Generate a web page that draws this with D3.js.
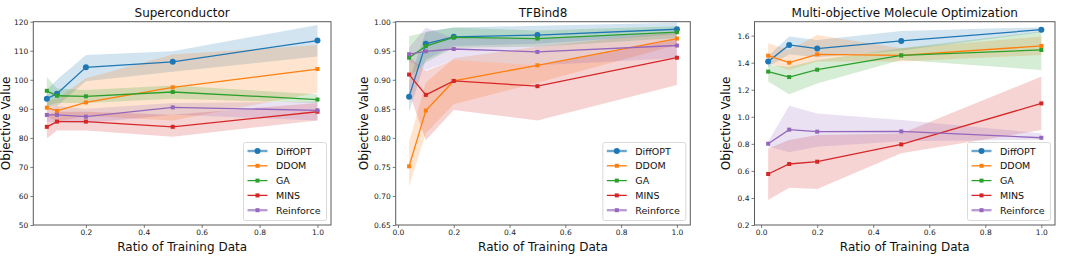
<!DOCTYPE html>
<html><head><meta charset="utf-8">
<script src="https://cdn.jsdelivr.net/npm/d3@7"></script>
<style>body{margin:0;background:#fff}svg{display:block}text{font-family:"DejaVu Sans",sans-serif}</style>
</head><body><svg id="c" width="1065" height="263"></svg>
<script>
const seriesNames = ["DiffOPT", "DDOM", "GA", "MINS", "Reinforce"];
const seriesColors = ["#1f77b4", "#ff7f0e", "#2ca02c", "#d62728", "#9467bd"];
const panelTitles = ["Superconductor", "TFBind8", "Multi-objective Molecule Optimization"];

// Superconductor
const scX = [0.065, 0.1, 0.2, 0.5, 1.0];
const scMean = [[93.5, 95.2, 104.3, 106.2, 113.5],[90.4, 89.3, 92.2, 97.4, 103.7],[96.2, 94.5, 94.3, 95.8, 93.2],[83.8, 85.6, 85.6, 83.8, 89.0],[87.9, 87.9, 87.3, 90.5, 89.5]];
const scLo = [[90.5, 91, 99.5, 102.8, 108],[87.5, 85.5, 87.5, 86, 95.5],[91, 92, 92, 93.5, 92],[79.8, 82.5, 82.5, 80.4, 86],[85.5, 85.5, 85, 88, 86]];
const scHi = [[96.5, 100, 108.5, 109.8, 118.9],[93, 93.5, 100.5, 108.7, 112],[101, 97, 96.5, 98, 95],[88, 89, 89, 88, 92],[90, 91, 90, 92, 92.5]];
const scYTicks = [50, 60, 70, 80, 90, 100, 110, 120];
const scXTicks = [0.2, 0.4, 0.6, 0.8, 1.0];

// TFBind8
const tfX = [0.04, 0.1, 0.2, 0.5, 1.0];
const tfMean = [[0.871, 0.962, 0.974, 0.977, 0.987],[0.751, 0.847, 0.898, 0.925, 0.971],[0.938, 0.958, 0.973, 0.971, 0.982],[0.909, 0.874, 0.898, 0.889, 0.938],[0.944, 0.949, 0.953, 0.948, 0.959]];
const tfLo = [[0.845, 0.935, 0.958, 0.962, 0.978],[0.716, 0.808, 0.858, 0.895, 0.96],[0.905, 0.93, 0.955, 0.957, 0.972],[0.878, 0.796, 0.848, 0.83, 0.891],[0.932, 0.917, 0.934, 0.925, 0.937]];
const tfHi = [[0.898, 0.983, 0.99, 0.993, 0.998],[0.793, 0.895, 0.937, 0.957, 0.983],[0.975, 0.982, 0.99, 0.985, 0.992],[0.94, 0.915, 0.934, 0.925, 0.97],[0.955, 0.99, 0.971, 0.971, 0.983]];
const tfYTicks = [0.65, 0.70, 0.75, 0.80, 0.85, 0.90, 0.95, 1.00];
const tfXTicks = [0.0, 0.2, 0.4, 0.6, 0.8, 1.0];

// Multi-objective Molecule Optimization
const moX = [0.025, 0.1, 0.2, 0.5, 1.0];
const moMean = [[1.408, 1.531, 1.504, 1.561, 1.644],[1.452, 1.40, 1.462, 1.454, 1.524],[1.334, 1.294, 1.348, 1.454, 1.494],[0.577, 0.651, 0.668, 0.796, 1.099],[0.801, 0.905, 0.890, 0.892, 0.845]];
const moLo = [[1.37, 1.46, 1.44, 1.49, 1.625],[1.395, 1.346, 1.408, 1.408, 1.457],[1.26, 1.166, 1.247, 1.42, 1.346],[0.384, 0.475, 0.466, 0.73, 0.902],[0.78, 0.737, 0.779, 0.82, 0.83]];
const moHi = [[1.45, 1.593, 1.568, 1.635, 1.662],[1.543, 1.494, 1.605, 1.506, 1.593],[1.383, 1.37, 1.42, 1.506, 1.63],[0.766, 0.828, 0.865, 0.877, 1.297],[0.815, 1.082, 1.025, 0.976, 0.878]];
const moYTicks = [0.2, 0.4, 0.6, 0.8, 1.0, 1.2, 1.4, 1.6];
const moXTicks = [0.0, 0.2, 0.4, 0.6, 0.8, 1.0];

const panels = [
  {x: scX, mean: scMean, lo: scLo, hi: scHi, yDom: [50, 120], yTicks: scYTicks, xTicks: scXTicks, yFmt: d3.format("d"), xFmt: d3.format(".1f"), left: 33.3, right: 331, ylabX: 9.8},
  {x: tfX, mean: tfMean, lo: tfLo, hi: tfHi, yDom: [0.65, 1.0], yTicks: tfYTicks, xTicks: tfXTicks, yFmt: d3.format(".2f"), xFmt: d3.format(".1f"), left: 395.7, right: 690.3, ylabX: 367.5},
  {x: moX, mean: moMean, lo: moLo, hi: moHi, yDom: [0.2, 1.703], yTicks: moYTicks, xTicks: moXTicks, yFmt: d3.format(".1f"), xFmt: d3.format(".1f"), left: 754.5, right: 1055, ylabX: 730}
];
const plotTop = 21.7, plotBottom = 225;
const svg = d3.select("#c");
const spine = "#5a5a5a";

panels.forEach((p, pi) => {
  const a = d3.min(p.x), b = d3.max(p.x), m = 0.05 * (b - a);
  const x = d3.scaleLinear().domain([a - m, b + m]).range([p.left, p.right]);
  const y = d3.scaleLinear().domain(p.yDom).range([plotBottom, plotTop]);
  const g = svg.append("g");
  const clipId = "clip" + pi;
  g.append("clipPath").attr("id", clipId).append("rect").attr("x", p.left).attr("y", plotTop).attr("width", p.right - p.left).attr("height", plotBottom - plotTop);
  const plot = g.append("g").attr("clip-path", `url(#${clipId})`);

  seriesNames.forEach((s, si) => {
    const pts = p.x.map((xv, i) => ({x: xv, lo: p.lo[si][i], hi: p.hi[si][i]}));
    plot.append("path").datum(pts)
      .attr("d", d3.area().x(d => x(d.x)).y0(d => y(d.lo)).y1(d => y(d.hi)))
      .attr("fill", seriesColors[si]).attr("fill-opacity", 0.2);
  });
  seriesNames.forEach((s, si) => {
    const pts = p.x.map((xv, i) => ({x: xv, v: p.mean[si][i]}));
    plot.append("path").datum(pts)
      .attr("d", d3.line().x(d => x(d.x)).y(d => y(d.v)))
      .attr("fill", "none").attr("stroke", seriesColors[si]).attr("stroke-width", 1.3);
    pts.forEach(d => {
      if (si === 0) {
        plot.append("circle").attr("cx", x(d.x)).attr("cy", y(d.v)).attr("r", 3).attr("fill", seriesColors[si]);
      } else {
        plot.append("rect").attr("x", x(d.x) - 2).attr("y", y(d.v) - 2).attr("width", 4).attr("height", 4).attr("fill", seriesColors[si]);
      }
    });
  });

  const yAxis = d3.axisLeft(y).tickValues(p.yTicks).tickFormat(p.yFmt).tickSize(3).tickPadding(2);
  const xAxis = d3.axisBottom(x).tickValues(p.xTicks).tickFormat(p.xFmt).tickSize(3).tickPadding(2);
  const ya = g.append("g").attr("transform", `translate(${p.left},0)`).call(yAxis);
  const xa = g.append("g").attr("transform", `translate(0,${plotBottom})`).call(xAxis);
  [ya, xa].forEach(ax => {
    ax.select(".domain").remove();
    ax.selectAll(".tick line").attr("stroke", spine).attr("stroke-width", 0.8);
    ax.selectAll(".tick text").attr("fill", "#222").style("font-size", "7.5px").style("font-family", "DejaVu Sans");
  });
  g.append("rect").attr("x", p.left).attr("y", plotTop).attr("width", p.right - p.left).attr("height", plotBottom - plotTop)
    .attr("fill", "none").attr("stroke", spine).attr("stroke-width", 1);

  const cx = (p.left + p.right) / 2;
  g.append("text").attr("x", cx).attr("y", 17).attr("text-anchor", "middle").style("font-size", "12px").attr("fill", "#111").text(panelTitles[pi]);
  g.append("text").attr("x", cx).attr("y", 250.5).attr("text-anchor", "middle").style("font-size", "12px").attr("fill", "#111").text("Ratio of Training Data");
  g.append("text").attr("transform", `translate(${p.ylabX},${(plotTop + plotBottom) / 2}) rotate(-90)`).attr("text-anchor", "middle").style("font-size", "12px").attr("fill", "#111").text("Objective Value");

  const lw = 83, lh = 78;
  const lx = p.right - 4.5 - lw, ly = plotBottom - 4.5 - lh;
  const lg = g.append("g");
  lg.append("rect").attr("x", lx).attr("y", ly).attr("width", lw).attr("height", lh).attr("rx", 2)
    .attr("fill", "#fff").attr("fill-opacity", 0.85).attr("stroke", "#d0d0d0").attr("stroke-width", 0.8);
  seriesNames.forEach((s, si) => {
    const ey = ly + 8.5 + si * 14.8;
    const light = (si === 0 || si === 4);
    lg.append("line").attr("x1", lx + 4).attr("x2", lx + 24).attr("y1", ey).attr("y2", ey)
      .attr("stroke", seriesColors[si]).attr("stroke-width", light ? 2.4 : 1.3).attr("stroke-opacity", light ? 0.65 : 1);
    if (si === 0) lg.append("circle").attr("cx", lx + 14).attr("cy", ey).attr("r", 3).attr("fill", seriesColors[si]);
    else lg.append("rect").attr("x", lx + 12).attr("y", ey - 2).attr("width", 4).attr("height", 4).attr("fill", seriesColors[si]);
    lg.append("text").attr("x", lx + 32.5).attr("y", ey + 3.5).style("font-size", "9.5px").attr("fill", "#111").text(s);
  });
});
</script></body></html>
